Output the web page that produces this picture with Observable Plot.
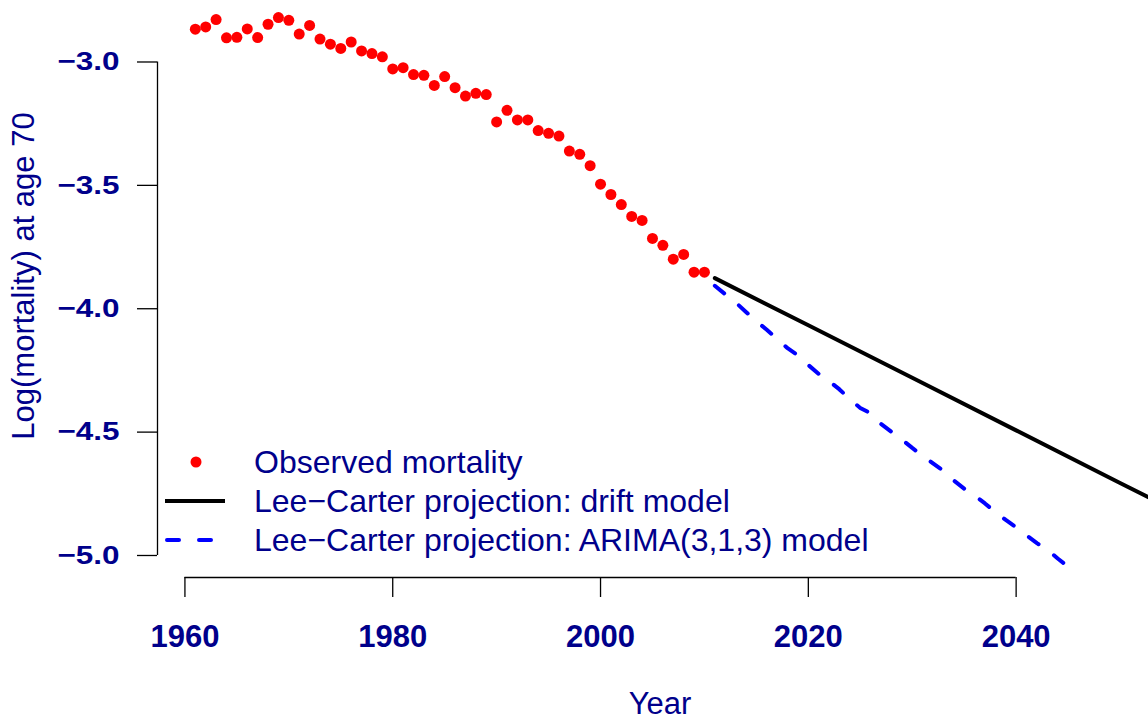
<!DOCTYPE html>
<html>
<head>
<meta charset="utf-8">
<script src="https://cdn.jsdelivr.net/npm/d3@7"></script>
<script src="https://cdn.jsdelivr.net/npm/@observablehq/plot@0.6"></script>
<style>
  html, body { margin: 0; padding: 0; background: #fff; }
  #wrap { position: relative; width: 1148px; height: 722px; overflow: hidden; font-family: "Liberation Sans", Arial, sans-serif; }
  #wrap svg { font-family: "Liberation Sans", Arial, sans-serif; }
  g[aria-label="x-axis tick label"] text { font-size: 31px; font-weight: bold; fill: #00008B; }
  g[aria-label="y-axis tick label"] text { font-size: 26px; font-weight: bold; fill: #00008B; }
  #legend { position: absolute; left: 0; top: 0; width: 1148px; height: 722px; pointer-events: none; }
  .lrow { position: absolute; left: 160px; height: 40px; display: flex; align-items: center; }
  .lrow svg { width: 70px; height: 40px; display: block; }
  .lrow span { margin-left: 24px; font-size: 32px; color: #00008B; white-space: nowrap; }
</style>
</head>
<body>
<div id="wrap"></div>
<script>
// Observed log mortality at age 70
const obsYears = [1961,1962,1963,1964,1965,1966,1967,1968,1969,1970,
                  1971,1972,1973,1974,1975,1976,1977,1978,1979,1980,
                  1981,1982,1983,1984,1985,1986,1987,1988,1989,1990,
                  1991,1992,1993,1994,1995,1996,1997,1998,1999,2000,
                  2001,2002,2003,2004,2005,2006,2007,2008,2009,2010];
const obsValues = [-2.867,-2.858,-2.828,-2.902,-2.900,-2.866,-2.901,-2.847,-2.820,-2.831,
                   -2.887,-2.852,-2.907,-2.928,-2.945,-2.919,-2.955,-2.966,-2.979,-3.028,
                   -3.023,-3.051,-3.054,-3.095,-3.059,-3.104,-3.138,-3.127,-3.132,-3.243,
                   -3.196,-3.235,-3.235,-3.278,-3.289,-3.300,-3.361,-3.374,-3.420,-3.495,
                   -3.537,-3.578,-3.626,-3.642,-3.715,-3.743,-3.799,-3.780,-3.852,-3.852];

// Lee-Carter projection, drift model
const driftYears  = [2011, 2020, 2030, 2040, 2050, 2055];
const driftValues = [-3.876, -4.067, -4.280, -4.493, -4.706, -4.812];

// Lee-Carter projection, ARIMA(3,1,3) model
const arimaYears  = [2011,2012,2013,2014,2015,2016,2017,2018,2019,2020,
                     2021,2022,2023,2024,2025,2026,2027,2028,2029,2030,
                     2031,2032,2033,2034,2035,2036,2037,2038,2039,2040,
                     2041,2042,2043,2044,2045,2046];
const arimaValues = [-3.907,-3.941,-3.974,-4.013,-4.051,-4.085,-4.122,-4.160,-4.189,-4.228,
                     -4.264,-4.293,-4.327,-4.367,-4.402,-4.424,-4.467,-4.499,-4.530,-4.564,
                     -4.596,-4.627,-4.657,-4.696,-4.729,-4.757,-4.789,-4.824,-4.856,-4.886,
                     -4.918,-4.950,-4.976,-5.012,-5.045,-5.074];

const xTicks = [1960, 1980, 2000, 2020, 2040];
const yTicks = [-5.0, -4.5, -4.0, -3.5, -3.0];
const xDomain = [1957.36, 2052.74];
const yDomain = [-5.0892, -2.7508];

const legendLabels = ["Observed mortality",
                      "Lee\u2212Carter projection: drift model",
                      "Lee\u2212Carter projection: ARIMA(3,1,3) model"];

const obs = obsYears.map((year, i) => ({year, value: obsValues[i]}));
const drift = driftYears.map((year, i) => ({year, value: driftValues[i]}));
const arima = arimaYears.map((year, i) => ({year, value: arimaValues[i]}));

const fmt = d => (d < 0 ? "\u2212" : "") + Math.abs(d).toFixed(1);
const navy = "#00008B";

const chart = Plot.plot({
  width: 1148,
  height: 722,
  marginLeft: 157,
  marginRight: 0,
  marginTop: 0,
  marginBottom: 145,
  style: {fontFamily: "Liberation Sans, Arial, sans-serif", background: "white"},
  x: {domain: xDomain},
  y: {domain: yDomain},
  marks: [
    Plot.axisX({ticks: xTicks, tickSize: 20, tickPadding: 27, tickFormat: d => String(d), label: null, stroke: "black", strokeWidth: 1.3, strokeOpacity: 1}),
    Plot.axisY({ticks: yTicks, tickSize: 20, tickPadding: 18, tickFormat: fmt, label: null, stroke: "black", strokeWidth: 1.3, strokeOpacity: 1}),
    Plot.ruleX([xDomain[0]], {y1: d3.min(yTicks), y2: d3.max(yTicks), stroke: "black", strokeWidth: 1.3}),
    Plot.ruleY([yDomain[0]], {x1: d3.min(xTicks), x2: d3.max(xTicks), stroke: "black", strokeWidth: 1.3}),
    Plot.line(drift, {x: "year", y: "value", stroke: "black", strokeWidth: 4, clip: true}),
    Plot.line(arima, {x: "year", y: "value", stroke: "#0000FF", strokeWidth: 4, strokeDasharray: "12,19", strokeLinecap: "round", clip: true}),
    Plot.dot(obs, {x: "year", y: "value", r: 5.5, fill: "#FF0000", stroke: "none"}),
    Plot.text(["Year"], {frameAnchor: "bottom", dx: 7, dy: 127, lineAnchor: "middle", textAnchor: "middle", fontSize: 31, fill: navy}),
    Plot.text(["Log(mortality) at age 70"], {frameAnchor: "left", rotate: -90, dx: -133, dy: -13, lineAnchor: "middle", textAnchor: "middle", fontSize: 31, fill: navy})
  ]
});

const wrap = document.getElementById("wrap");
wrap.appendChild(chart);

// horizontally widen y tick labels to match the reference glyph shapes
chart.querySelectorAll('g[aria-label="y-axis tick label"] text').forEach(t => {
  const b = t.getBBox();
  const r = b.x + b.width;
  const tr = t.getAttribute("transform") || "";
  t.setAttribute("transform", `${tr} translate(${r},0) scale(1.21,1) translate(${-r},0)`);
});

// legend (bottom-left, inside the plot)
const legend = document.createElement("div");
legend.id = "legend";
const rowsTop = [442, 481, 520];
const symbols = [
  '<svg viewBox="0 0 70 40"><circle cx="36" cy="20" r="5.5" fill="#FF0000"/></svg>',
  '<svg viewBox="0 0 70 40"><line x1="5" y1="20" x2="65" y2="20" stroke="black" stroke-width="4"/></svg>',
  '<svg viewBox="0 0 70 40"><line x1="7" y1="20" x2="65" y2="20" stroke="#0000FF" stroke-width="4" stroke-dasharray="12,20" stroke-linecap="round"/></svg>'
];
legendLabels.forEach((lab, i) => {
  const row = document.createElement("div");
  row.className = "lrow";
  row.style.top = rowsTop[i] + "px";
  row.innerHTML = symbols[i] + "<span>" + lab + "</span>";
  legend.appendChild(row);
});
wrap.appendChild(legend);
</script>
</body>
</html>
